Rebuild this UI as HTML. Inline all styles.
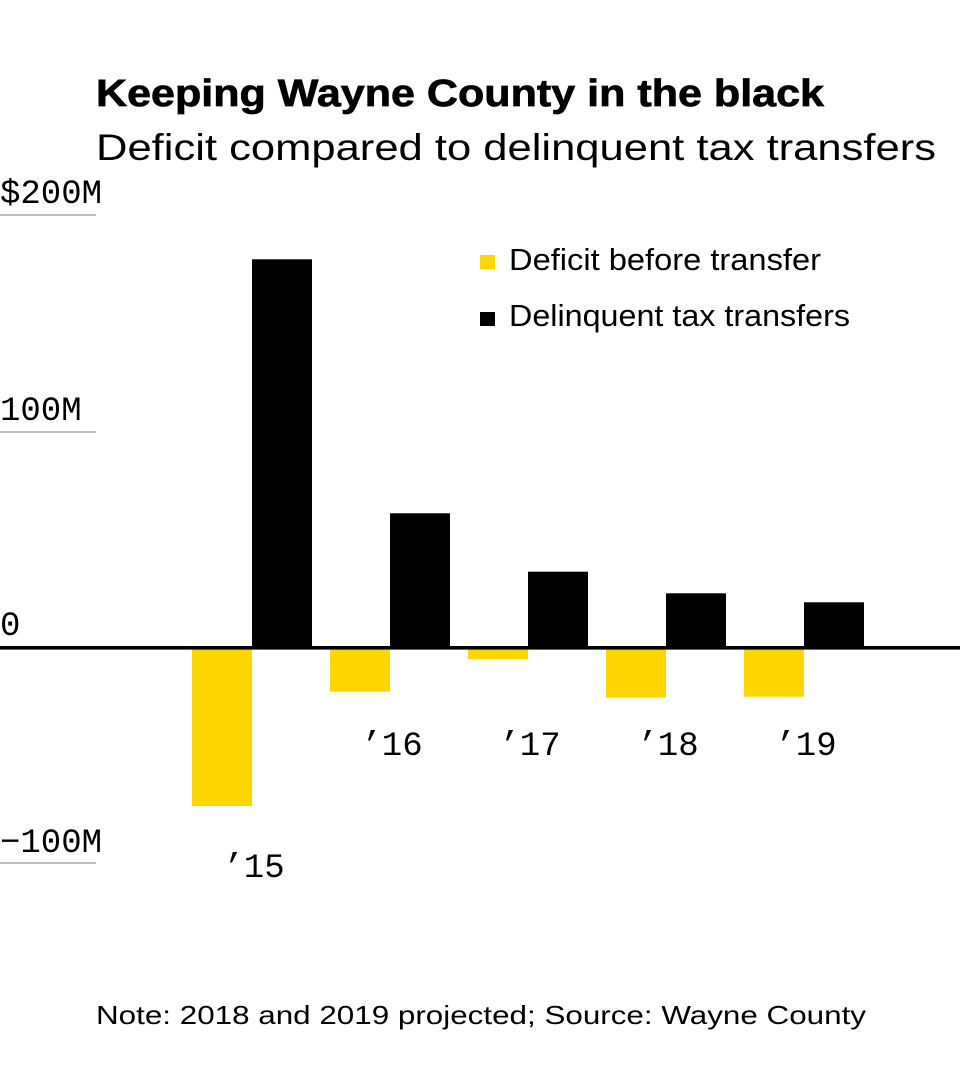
<!DOCTYPE html>
<html>
<head>
<meta charset="utf-8">
<style>
  html, body { margin: 0; padding: 0; background: #fff; }
  svg { display: block; }
  .sans { font-family: "Liberation Sans", "DejaVu Sans", sans-serif; fill: #000; }
  .mono { font-family: "Liberation Mono", "DejaVu Sans Mono", monospace; fill: #000; font-size: 34px; }
</style>
</head>
<body>
<svg width="960" height="1080" viewBox="0 0 960 1080" xmlns="http://www.w3.org/2000/svg">
  <rect x="0" y="0" width="960" height="1080" fill="#fff"/>

  <!-- Title & subtitle -->
  <text class="sans" x="96" y="106" font-size="38" font-weight="bold" stroke="#000" stroke-width="0.7" textLength="728" lengthAdjust="spacingAndGlyphs">Keeping Wayne County in the black</text>
  <text class="sans" x="96" y="160" font-size="37" textLength="840" lengthAdjust="spacingAndGlyphs">Deficit compared to delinquent tax transfers</text>

  <!-- Gridlines -->
  <rect x="0" y="214" width="96" height="2" fill="#bdbdbd"/>
  <rect x="0" y="431" width="96" height="2" fill="#bdbdbd"/>
  <rect x="0" y="862" width="96" height="2" fill="#bdbdbd"/>

  <!-- Y labels -->
  <text class="mono" x="0" y="203">$200M</text>
  <text class="mono" x="0" y="420">100M</text>
  <text class="mono" x="0" y="635">0</text>
  <text class="mono" x="0" y="852">−100M</text>

  <!-- Bars: yellow (deficit) -->
  <g fill="#ffd700">
    <rect x="192" y="648" width="60" height="158"/>
    <rect x="330" y="648" width="60" height="43.7"/>
    <rect x="468" y="648" width="60" height="11"/>
    <rect x="606" y="648" width="60" height="49.7"/>
    <rect x="744" y="648" width="60" height="48.7"/>
  </g>
  <!-- Bars: black (transfers) -->
  <g fill="#000">
    <rect x="252" y="259.3" width="60" height="388.7"/>
    <rect x="390" y="513.3" width="60" height="134.7"/>
    <rect x="528" y="571.7" width="60" height="76.3"/>
    <rect x="666" y="593.3" width="60" height="54.7"/>
    <rect x="804" y="602.3" width="60" height="45.7"/>
  </g>

  <!-- Zero line -->
  <rect x="0" y="646" width="960" height="3.6" fill="#000"/>

  <!-- X labels -->
  <g class="mono" text-anchor="middle">
    <text x="254" y="877">’15</text>
    <text x="392" y="755">’16</text>
    <text x="530" y="755">’17</text>
    <text x="668" y="755">’18</text>
    <text x="806" y="755">’19</text>
  </g>

  <!-- Legend -->
  <rect x="480" y="255" width="15" height="14" fill="#ffd700"/>
  <text class="sans" x="509" y="270" font-size="31" textLength="312" lengthAdjust="spacingAndGlyphs">Deficit before transfer</text>
  <rect x="480" y="312" width="15" height="14" fill="#000"/>
  <text class="sans" x="509" y="326" font-size="31" textLength="341" lengthAdjust="spacingAndGlyphs">Delinquent tax transfers</text>

  <!-- Footer -->
  <text class="sans" x="96" y="1024" font-size="26" textLength="770" lengthAdjust="spacingAndGlyphs">Note: 2018 and 2019 projected; Source: Wayne County</text>
</svg>
</body>
</html>
